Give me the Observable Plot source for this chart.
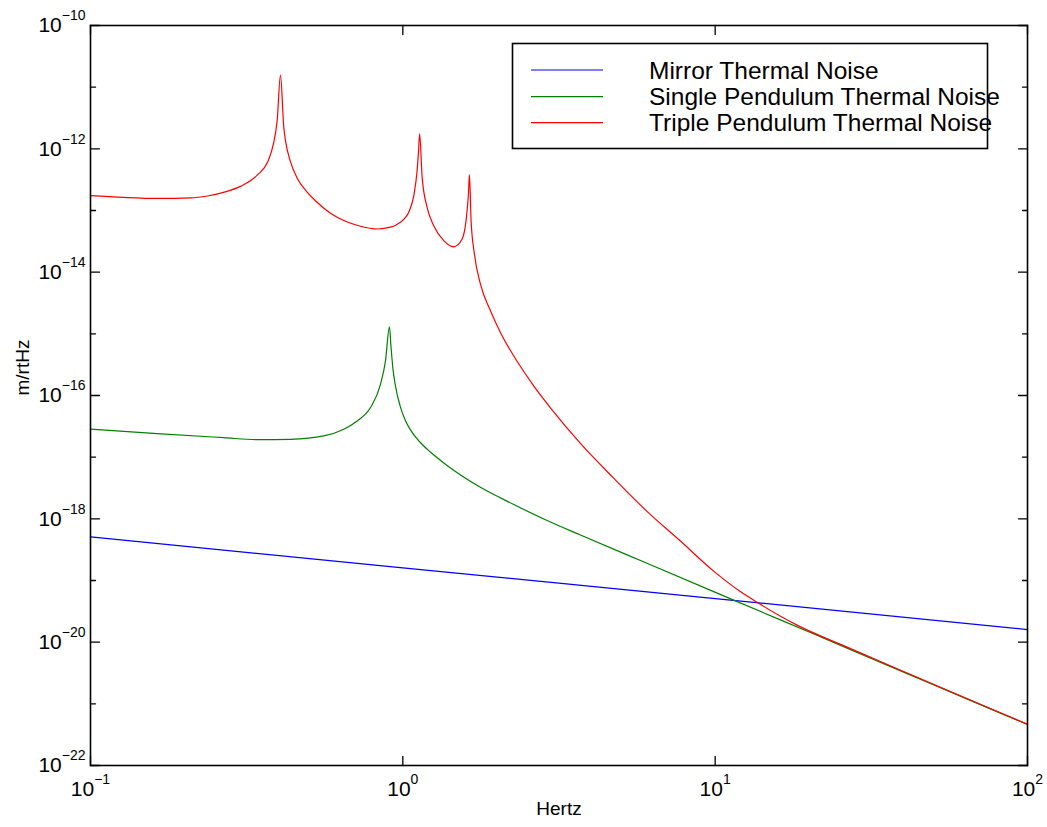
<!DOCTYPE html>
<html><head><meta charset="utf-8">
<script src="https://cdn.jsdelivr.net/npm/d3@7"></script>
<script src="https://cdn.jsdelivr.net/npm/@observablehq/plot@0.6"></script>
<style>
body{margin:0;background:#fff;}
#wrap{position:relative;width:1047px;height:827px;font-family:"Liberation Sans",Arial,Helvetica,sans-serif;}
#legend{position:absolute;left:0;top:0;pointer-events:none;}
</style></head><body><div id="wrap"></div>
<script>
const seriesNames = ["Mirror Thermal Noise", "Single Pendulum Thermal Noise", "Triple Pendulum Thermal Noise"];
const seriesColors = ["#0000ff", "#008000", "#ff0000"];

const mirrorFreq = [0.1, 1, 10, 100];
const mirrorNoise = [5.1e-19, 1.6e-19, 5.1e-20, 1.6e-20];

const singleFreq = [0.1, 0.1635, 0.267, 0.342, 0.437, 0.558, 0.647, 0.714, 0.788, 0.848, 0.880, 0.906, 0.916, 0.9296, 0.9469, 0.982, 1.019, 1.0575, 1.138, 1.225, 1.386, 1.772, 2.265, 2.897, 3.703, 6.05, 9.89, 16.17, 26.44, 43.2, 70.6, 100];
const singleNoise = [2.84e-17, 2.41e-17, 2.07e-17, 1.92e-17, 1.95e-17, 2.21e-17, 2.84e-17, 3.87e-17, 6.37e-17, 1.52e-16, 3.65e-16, 1.30e-15, 6.38e-16, 2.70e-16, 1.43e-16, 6.53e-17, 3.94e-17, 2.77e-17, 1.73e-17, 1.21e-17, 7.33e-18, 3.24e-18, 1.71e-18, 9.38e-19, 5.46e-19, 1.90e-19, 6.61e-20, 2.30e-20, 8.02e-21, 2.79e-21, 9.71e-22, 4.61e-22];

const tripleFreq = [0.1, 0.1275, 0.1639, 0.209, 0.2368, 0.2665, 0.302, 0.3424, 0.3686, 0.3853, 0.3959, 0.4057, 0.4158, 0.421, 0.4367, 0.4600, 0.4879, 0.5251, 0.5866, 0.6550, 0.7317, 0.8292, 0.9127, 0.9610, 1.0118, 1.0498, 1.084, 1.111, 1.122, 1.132, 1.153, 1.196, 1.256, 1.352, 1.455, 1.548, 1.598, 1.622, 1.634, 1.654, 1.695, 1.772, 1.908, 2.053, 2.322, 2.624, 2.969, 3.703, 4.732, 6.05, 7.74, 9.89, 12.04, 13.62, 18.29, 26.44, 43.2, 70.6, 100];
const tripleNoise = [1.74e-13, 1.63e-13, 1.57e-13, 1.60e-13, 1.72e-13, 1.97e-13, 2.46e-13, 3.77e-13, 6.04e-13, 1.21e-12, 2.87e-12, 1.57e-11, 2.23e-12, 1.36e-12, 6.19e-13, 3.28e-13, 2.14e-13, 1.44e-13, 9.04e-14, 6.70e-14, 5.56e-14, 5.01e-14, 5.36e-14, 6.00e-14, 7.36e-14, 9.93e-14, 1.74e-13, 4.43e-13, 8.67e-13, 1.75e-12, 3.44e-13, 1.12e-13, 5.66e-14, 3.24e-14, 2.58e-14, 3.44e-14, 7.73e-14, 1.85e-13, 3.81e-13, 6.82e-14, 1.97e-14, 6.41e-15, 2.36e-15, 1.05e-15, 3.59e-16, 1.43e-16, 6.30e-17, 1.67e-17, 4.56e-18, 1.32e-18, 4.36e-19, 1.42e-19, 6.61e-20, 4.43e-20, 1.89e-20, 8.30e-21, 2.85e-21, 9.86e-22, 4.67e-22];

const xTickValues = [0.1, 1, 10, 100];
const yTickValues = [1e-22, 1e-21, 1e-20, 1e-19, 1e-18, 1e-17, 1e-16, 1e-15, 1e-14, 1e-13, 1e-12, 1e-11, 1e-10];
const yLabelValues = [1e-22, 1e-20, 1e-18, 1e-16, 1e-14, 1e-12, 1e-10];
const xLabel = "Hertz";
const yLabel = "m/rtHz";

const rows = [];
const addSeries = (name, fs, vs) => fs.forEach((f, i) => rows.push({series: name, f, v: vs[i]}));
addSeries(seriesNames[0], mirrorFreq, mirrorNoise);
addSeries(seriesNames[1], singleFreq, singleNoise);
addSeries(seriesNames[2], tripleFreq, tripleNoise);

const fmt = d => "10^" + String(Math.round(Math.log10(d))).replace("-", "\u2212");
const tickShape = {draw(context, l) { context.moveTo(0, 0); context.lineTo(0, -l); }};
const yMajor = yTickValues.filter(d => yLabelValues.includes(d));
const yMinor = yTickValues.filter(d => !yLabelValues.includes(d));
const tk = (data, channel, anchor, rotate, length) => Plot.vector(data, {[channel]: d => d, frameAnchor: anchor, rotate, length, anchor: "start", shape: tickShape, stroke: "black", strokeWidth: 1.3});

const plot = Plot.plot({
  width: 1047, height: 827,
  marginLeft: 90, marginRight: 20, marginTop: 25, marginBottom: 62,
  style: {fontFamily: "'Liberation Sans', Arial, Helvetica, sans-serif", background: "white", color: "black"},
  x: {type: "log", domain: [0.1, 100]},
  y: {type: "log", domain: [1e-22, 1e-10]},
  color: {domain: seriesNames, range: seriesColors},
  marks: [
    Plot.line(rows, {x: "f", y: "v", z: "series", stroke: "series", strokeWidth: 1.2, curve: "monotone-x"}),
    tk(yMajor, "y", "left", 90, 9),
    tk(yMinor, "y", "left", 90, 5),
    tk(yMajor, "y", "right", -90, 9),
    tk(yMinor, "y", "right", -90, 5),
    tk(xTickValues, "x", "bottom", 0, 9),
    tk(xTickValues, "x", "top", 180, 9),
    Plot.frame({stroke: "black", strokeWidth: 1.6}),
    Plot.axisY(yLabelValues, {anchor: "left", tickSize: 0, tickPadding: 5, tickFormat: fmt, fontSize: 21, label: null}),
    Plot.axisX(xTickValues, {anchor: "bottom", tickSize: 0, tickPadding: 16, tickFormat: fmt, fontSize: 21, label: null}),
    Plot.text([yLabel], {frameAnchor: "left", dx: -68, rotate: -90, fontSize: 19, fill: "black"}),
    Plot.text([xLabel], {frameAnchor: "bottom", dy: 49, fontSize: 19, fill: "black"})
  ]
});

// superscript exponents
plot.querySelectorAll('g[aria-label$="tick label"] text').forEach(t => {
  const s = t.textContent;
  if (!s.includes("^")) return;
  const [base, ex] = s.split("^");
  t.textContent = "";
  const a = document.createElementNS("http://www.w3.org/2000/svg", "tspan");
  a.textContent = base;
  const b = document.createElementNS("http://www.w3.org/2000/svg", "tspan");
  b.textContent = ex;
  b.setAttribute("font-size", "14");
  b.setAttribute("dy", "-12");
  t.append(a, b);
});

const wrap = document.getElementById("wrap");
wrap.appendChild(plot);

// legend overlay
const ns = "http://www.w3.org/2000/svg";
const leg = document.createElementNS(ns, "svg");
leg.setAttribute("id", "legend");
leg.setAttribute("width", 1047);
leg.setAttribute("height", 200);
const box = document.createElementNS(ns, "rect");
box.setAttribute("x", 512.5); box.setAttribute("y", 43.5);
box.setAttribute("width", 475); box.setAttribute("height", 105);
box.setAttribute("fill", "white"); box.setAttribute("stroke", "black"); box.setAttribute("stroke-width", 1.6);
leg.appendChild(box);
const lineYs = [70, 96.7, 122.7];
seriesNames.forEach((name, i) => {
  const l = document.createElementNS(ns, "line");
  l.setAttribute("x1", 531); l.setAttribute("x2", 603);
  l.setAttribute("y1", lineYs[i]); l.setAttribute("y2", lineYs[i]);
  l.setAttribute("stroke", seriesColors[i]); l.setAttribute("stroke-width", 1.2);
  leg.appendChild(l);
  const tx = document.createElementNS(ns, "text");
  tx.setAttribute("x", 649); tx.setAttribute("y", lineYs[i] + 8.5);
  tx.setAttribute("font-size", 24.5);
  tx.setAttribute("font-family", "'Liberation Sans', Arial, Helvetica, sans-serif");
  tx.textContent = name;
  leg.appendChild(tx);
});
wrap.appendChild(leg);
</script>
</body></html>
